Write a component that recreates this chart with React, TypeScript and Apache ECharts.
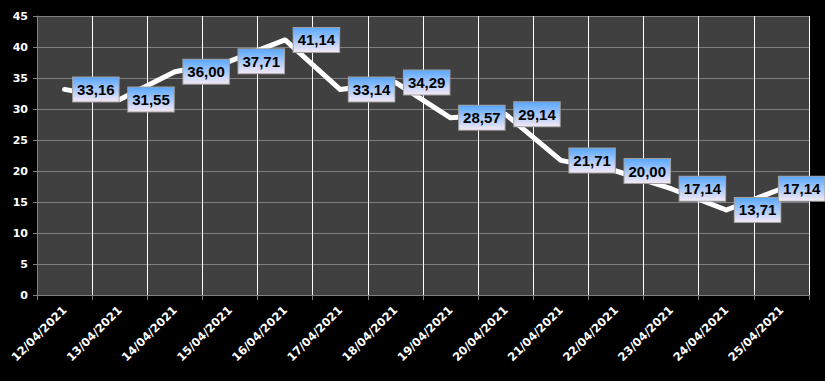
import React, { useEffect, useRef } from "react";
import * as echarts from "echarts";

const categories = [
  "12/04/2021", "13/04/2021", "14/04/2021", "15/04/2021", "16/04/2021",
  "17/04/2021", "18/04/2021", "19/04/2021", "20/04/2021", "21/04/2021",
  "22/04/2021", "23/04/2021", "24/04/2021", "25/04/2021",
];
const values = [33.16, 31.55, 36.0, 37.71, 41.14, 33.14, 34.29, 28.57, 29.14, 21.71, 20.0, 17.14, 13.71, 17.14];
const yMin = 0;
const yMax = 45;
const yInterval = 5;

export default function App() {
  const ref = useRef<HTMLDivElement>(null);
  useEffect(() => {
    if (!ref.current) return;
    const chart = echarts.init(ref.current, undefined, { renderer: "svg" });
    const seriesData = values.map((v, i) =>
      i === values.length - 1 ? { value: v, label: { distance: -3 } } : v
    );
    chart.setOption({
      animation: false,
      backgroundColor: "#000000",
      grid: {
        left: 37,
        right: 16,
        top: 16,
        bottom: 86,
        show: true,
        backgroundColor: "#404040",
        borderWidth: 0,
      },
      xAxis: {
        type: "category",
        data: categories,
        boundaryGap: true,
        axisLine: { show: true, lineStyle: { color: "#808080", width: 1 } },
        axisTick: { show: true, length: 5, lineStyle: { color: "#808080" } },
        splitLine: { show: true, lineStyle: { color: "#ffffff", width: 1 } },
        axisLabel: {
          rotate: 45,
          color: "#ffffff",
          fontFamily: "DejaVu Sans",
          fontWeight: "bold",
          fontSize: 11.5,
          margin: 13,
          interval: 0,
        },
      },
      yAxis: {
        type: "value",
        min: yMin,
        max: yMax,
        interval: yInterval,
        axisLine: { show: true, lineStyle: { color: "#808080", width: 1 } },
        axisTick: { show: true, length: 4, lineStyle: { color: "#808080" } },
        splitLine: { show: true, lineStyle: { color: "#808080", width: 1 } },
        axisLabel: {
          color: "#ffffff",
          fontFamily: "DejaVu Sans",
          fontWeight: "bold",
          fontSize: 11,
          margin: 9,
        },
      },
      series: [
        {
          type: "line",
          data: seriesData,
          symbol: "circle",
          symbolSize: 1,
          showSymbol: true,
          itemStyle: { color: "#ffffff", opacity: 0 },
          lineStyle: { color: "#ffffff", width: 5, join: "round", cap: "round" },
          label: {
            show: true,
            position: "right",
            distance: 8,
            formatter: (p: any) => Number(p.value).toFixed(2).replace(".", ","),
            color: "#000000",
            fontFamily: "Liberation Sans",
            fontWeight: "bold",
            fontSize: 15,
            lineHeight: 17,
            padding: [4, 4, 3, 4],
            borderColor: "#a0a0a0",
            borderWidth: 1,
            opacity: 1,
            backgroundColor: new echarts.graphic.LinearGradient(0, 0, 0, 1, [
              { offset: 0, color: "#5aa8ff" },
              { offset: 1, color: "#f3e8f4" },
            ]),
          },
          z: 3,
        },
      ],
    });
    return () => chart.dispose();
  }, []);
  return (
    <div
      ref={ref}
      style={{ position: "fixed", left: 0, top: 0, width: 825, height: 381 }}
    />
  );
}
